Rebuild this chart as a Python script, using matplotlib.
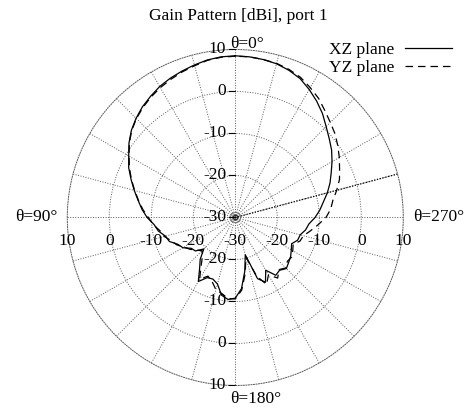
import numpy as np
import matplotlib
matplotlib.use("Agg")
import matplotlib.pyplot as plt

# gain pattern, theta in degrees (0 at top, ccw)
theta_deg = list(range(0, 361, 5))
gain_xz = [8.5, 8.4, 8.1, 7.6, 7.1, 6.6, 6.0, 5.2, 4.4,
           3.4, 2.3, 0.9, -0.7, -2.0, -3.6, -5.1, -6.5, -7.7,
           -9.0, -10.6, -11.4, -12.8, -13.3, -14.9, -15.6, -17.2, -17.6,
           -19.4, -17.0, -15.2, -12.4, -14.2, -14.4, -13.6, -11.2, -10.4,
           -10.8, -13.0, -17.0, -20.8, -14.5, -13.0, -15.5, -13.2, -13.6,
           -12.8, -13.4, -13.9, -14.6, -15.2, -14.2, -14.0, -13.0, -12.4,
           -11.0, -9.8, -8.7, -7.3, -6.0, -4.8, -3.4, -2.0, -0.8,
           0.6, 2.3, 3.8, 5.2, 6.5, 7.3, 7.9, 8.2, 8.4,
           8.5]
gain_yz = [8.4, 8.3, 8.0, 7.4, 6.9, 6.3, 5.7, 5.0, 4.2,
           3.3, 2.2, 0.8, -0.8, -2.2, -3.7, -5.2, -6.6, -7.9,
           -9.3, -10.4, -11.8, -12.5, -13.8, -14.6, -15.9, -16.8, -17.9,
           -18.8, -17.8, -15.8, -13.0, -14.6, -13.8, -12.2, -11.6, -10.6,
           -10.6, -12.6, -16.4, -20.2, -15.2, -12.4, -14.2, -12.4, -13.8,
           -13.0, -13.8, -13.6, -14.2, -14.8, -13.6, -13.2, -11.8, -10.2,
           -8.4, -7.2, -6.4, -5.0, -3.6, -2.6, -1.4, -0.2, 1.0,
           2.0, 3.2, 4.6, 5.7, 6.8, 7.5, 8.0, 8.2, 8.4,
           8.4]

r_min, r_max = -30, 10
r_grid = [-20, -10, 0]
r_labels = [10, 0, -10, -20]
theta_grid = list(range(0, 360, 15))

plt.rcParams["font.family"] = ["Liberation Serif", "DejaVu Serif"]
plt.rcParams["font.size"] = 12.5

fig = plt.figure(figsize=(4.66, 4.08), dpi=100)
ax = fig.add_axes([0.1444, 0.0552, 0.721, 0.8235], projection="polar")
ax.set_theta_zero_location("N")
ax.set_theta_direction(1)
ax.set_ylim(r_min, r_max)

grid_kw = dict(color="0.35", linestyle=(0, (1, 1.6)), linewidth=0.7)
ax.set_rgrids(r_grid, labels=[""] * len(r_grid))
ax.set_thetagrids(theta_grid, labels=[""] * len(theta_grid))
ax.grid(True, **grid_kw)
ax.spines["polar"].set_linestyle((0, (1, 1.6)))
ax.spines["polar"].set_color("0.35")
ax.spines["polar"].set_linewidth(0.7)
ax.tick_params(length=0)

# darker ray (gnuplot r-axis)
ax.plot([np.radians(285)] * 2, [r_min, r_max], color="k",
        linestyle=(0, (1, 1.3)), linewidth=0.9)
# little rings at the pole
ax.plot([0], [r_min], marker="o", ms=3, mfc="none", mec="k", mew=0.6)
ax.plot([0], [r_min], marker="o", ms=7, mfc="none", mec="0.3", mew=0.5)

th = np.radians(theta_deg)
ax.plot(th, gain_xz, color="k", linewidth=0.9, label="XZ plane")
ax.plot(th, gain_yz, color="k", linewidth=0.9, dashes=(6, 4), label="YZ plane")

tick_arrow = dict(arrowstyle="-", lw=0.8, color="k", shrinkA=0, shrinkB=0)

# radial tick labels on the vertical axis
for v in r_labels + [r_min]:
    ax.annotate(str(v), xy=(0, v), xytext=(-9, 0), textcoords="offset pixels",
                ha="right", va="center", arrowprops=tick_arrow)
for v in r_labels:
    ax.annotate(str(v), xy=(np.pi, v), xytext=(-9, 0), textcoords="offset pixels",
                ha="right", va="center", arrowprops=tick_arrow)

# radial tick labels under the horizontal axis
for v in r_labels:
    ax.annotate(str(v), xy=(np.pi / 2, v), xytext=(0, -24),
                textcoords="offset pixels", ha="center", va="center")
    ax.annotate(str(v), xy=(3 * np.pi / 2, v), xytext=(0, -24),
                textcoords="offset pixels", ha="center", va="center")
ax.annotate(str(r_min), xy=(0, r_min), xytext=(0, -24),
            textcoords="offset pixels", ha="center", va="center")

# angle labels
ax.annotate("θ=0°", xy=(0, r_max), xytext=(-5, 1), textcoords="offset pixels",
            ha="left", va="baseline")
ax.annotate("θ=180°", xy=(np.pi, r_max), xytext=(-5, -18),
            textcoords="offset pixels", ha="left", va="baseline")
ax.annotate("θ=90°", xy=(np.pi / 2, r_max), xytext=(-10, 0),
            textcoords="offset pixels", ha="right", va="center")
ax.annotate("θ=270°", xy=(3 * np.pi / 2, r_max), xytext=(10, 0),
            textcoords="offset pixels", ha="left", va="center")

fig.text(238 / 466, 1 - 20 / 408, "Gain Pattern [dBi], port 1",
         ha="center", va="baseline")

ax.legend(loc="upper right", bbox_to_anchor=(452 / 466, 1 - 42 / 408),
          bbox_transform=fig.transFigure, frameon=False, markerfirst=False,
          handlelength=2.7, handletextpad=0.6, borderpad=0, borderaxespad=0,
          labelspacing=0.12)

fig.savefig("out.png", dpi=100)
